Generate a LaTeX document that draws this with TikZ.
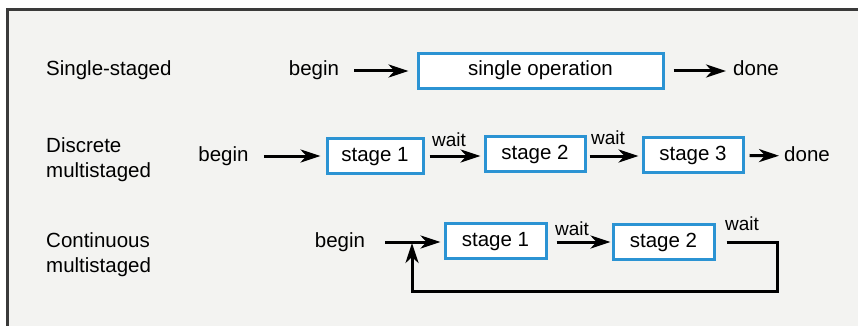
\documentclass[tikz,border=0pt]{standalone}
\usepackage{fontspec}
\setmainfont{Liberation Sans}
\usepackage{tikz}
\usetikzlibrary{arrows.meta,positioning,calc}
\definecolor{boxBlue}{HTML}{2B93D3}
\definecolor{frameGray}{HTML}{3A3A3A}
\definecolor{paperGray}{HTML}{F3F3F1}

\begin{document}
\begin{tikzpicture}[
    x=1pt,y=-1pt,
    >={Stealth[length=20pt,width=13pt,inset=6pt]},
    every node/.style={font=\fontsize{20.5}{25}\selectfont,inner sep=0pt},
    flowtext/.style={text height=14pt,text depth=4pt},
    stagebox/.style={flowtext,rectangle,draw=boxBlue,line width=3pt,fill=white,
                     minimum height=35pt,align=center},
    rowlabel/.style={anchor=west,align=left},
    waitlbl/.style={font=\fontsize{19}{20}\selectfont},
    arr/.style={->,line width=3pt}
  ]
  \useasboundingbox (0,0) rectangle (858,326);
  %% Frame
  \fill[paperGray] (7,10) rectangle (858,326);
  \draw[frameGray,line width=3pt] (7,326) -- (7,10) -- (858,10);
  %% Row labels
  \node[rowlabel] (lab1) at (46,70)  {Single-staged};
  \node[rowlabel] (lab2) at (46,160) {Discrete\\multistaged};
  \node[rowlabel] (lab3) at (46,255) {Continuous\\multistaged};
  %% Single-staged
  \node[flowtext] (begin1) at (314,71) {begin};
  \node[stagebox,minimum width=245pt] (single) at (540.5,71) {single operation};
  \node[flowtext] (done1) at (756,71) {done};
  \draw[arr,shorten <=15pt,shorten >=8pt] (begin1) -- (single);
  \draw[arr,shorten <=9pt,shorten >=7pt] (single) -- (done1);
  %% Discrete multistaged
  \node[flowtext] (begin2) at (223.5,156) {begin};
  \node[stagebox,minimum width=96pt]  (s1) at (375,156) {stage 1};
  \node[stagebox,minimum width=100pt] (s2) at (535,154) {stage 2};
  \node[stagebox,minimum width=100pt] (s3) at (693,155) {stage 3};
  \node[flowtext] (done2) at (807,156) {done};
  \draw[arr,shorten <=15pt,shorten >=5pt] (begin2.east) -- (s1.west |- begin2.east);
  \draw[arr,shorten <=5pt,shorten >=3pt] (s1.east) -- (s2.west |- s1.east)
    node[waitlbl,midway,above=8pt,xshift=-5pt] (w1) {wait};
  \draw[arr,shorten <=3pt,shorten >=3pt] (s2.east |- s1.east) -- (s3.west |- s1.east)
    node[waitlbl,midway,above=10pt,xshift=-6pt] (w2) {wait};
  \draw[arr,shorten <=5pt,shorten >=5pt] (s3) -- (done2);
  %% Continuous multistaged
  \node[flowtext] (begin3) at (340,242) {begin};
  \node[stagebox,minimum width=101pt] (c1) at (495.5,241) {stage 1};
  \node[stagebox,minimum width=101pt] (c2) at (663.5,242) {stage 2};
  \node[waitlbl] (w3) at (572,229) {wait};
  \node[waitlbl] (w4) at (742,224) {wait};
  \coordinate (merge) at (412,242);
  \coordinate (turn) at (777,291);
  \draw[arr,shorten <=20pt,shorten >=3pt] (begin3.east) -- (c1.west |- begin3.east);
  \draw[arr,shorten <=9pt,shorten >=1pt] (c1.east |- c2.east) -- (c2.west);
  \draw[arr,shorten >=1pt] ([xshift=11pt]c2.east) -| (turn) -| (merge);
\end{tikzpicture}
\end{document}
